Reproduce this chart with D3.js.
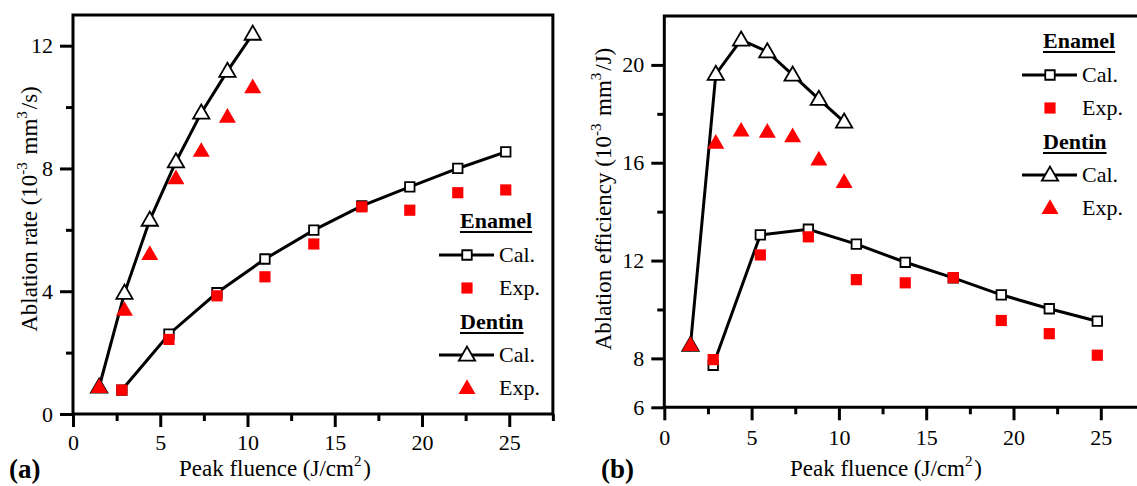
<!DOCTYPE html>
<html><head><meta charset="utf-8">
<script src="https://cdn.jsdelivr.net/npm/d3@7"></script>
<style>
html,body{margin:0;padding:0;background:#fff;overflow:hidden;}
svg text{font-family:"Liberation Serif","Times New Roman",serif;fill:#000;}
</style></head>
<body>
<svg id="chart" width="1137" height="486"></svg>
<script>
// ---- data ----
const enamelFluence = [2.8, 5.5, 8.25, 11.0, 13.8, 16.55, 19.3, 22.05, 24.8];
const dentinFluence = [1.5, 2.95, 4.4, 5.9, 7.35, 8.85, 10.3];

const rateEnamelCal = [0.78, 2.6, 3.95, 5.05, 5.99, 6.78, 7.4, 8.0, 8.54];
const rateEnamelExp = [0.78, 2.43, 3.85, 4.47, 5.54, 6.75, 6.64, 7.21, 7.3];
const rateDentinCal = [0.88, 3.94, 6.32, 8.22, 9.81, 11.17, 12.38];
const rateDentinExp = [0.88, 3.39, 5.21, 7.68, 8.57, 9.68, 10.64];

const effEnamelCal = [7.72, 13.05, 13.28, 12.67, 11.93, 11.29, 10.6, 10.03, 9.52];
const effEnamelExp = [7.95, 12.23, 12.97, 11.22, 11.09, 11.3, 9.55, 9.01, 8.13];
const effDentinCal = [8.54, 19.62, 21.02, 20.54, 19.59, 18.6, 17.67];
const effDentinExp = [8.54, 16.81, 17.31, 17.26, 17.08, 16.13, 15.21];

const xTicks = [0, 5, 10, 15, 20, 25];
const xMinor = [2.5, 7.5, 12.5, 17.5, 22.5, 27.5];
const rateTicks = [0, 4, 8, 12];
const rateMinor = [2, 6, 10];
const effTicks = [6, 8, 12, 16, 20];
const effMinor = [10, 14, 18];

const legendLabels = ["Enamel", "Cal.", "Exp.", "Dentin", "Cal.", "Exp."];

// ---- drawing ----
const svg = d3.select("#chart");
const W = 1137;
const RED = "#ff0000";

function sup(textSel, parts) {
  parts.forEach(p => {
    if (p.sup) {
      textSel.append("tspan").attr("dy", -10).attr("font-size", 15).text(p.t);
      textSel.append("tspan").attr("dy", 10).text("\u200a");
    } else {
      textSel.append("tspan").text(p.t);
    }
  });
}

function panel(cfg) {
  const g = svg.append("g");
  const x = d3.scaleLinear().domain([0, 27.5]).range([cfg.left, cfg.left + cfg.pxPerX * 27.5]);
  const y = d3.scaleLinear().domain(cfg.yDomain).range([cfg.bottom, cfg.top]);

  const xAxisMinor = d3.axisBottom(x).tickValues(xMinor).tickSize(7).tickFormat("");
  const xAxis = d3.axisBottom(x).tickValues(xTicks).tickSize(13).tickPadding(cfg.xPad);
  const yAxisMinor = d3.axisLeft(y).tickValues(cfg.yMinor).tickSize(7).tickFormat("");
  const yAxis = d3.axisLeft(y).tickValues(cfg.yTicks).tickSize(13).tickPadding(7);

  [xAxisMinor, xAxis].forEach(a => {
    const ag = g.append("g").attr("transform", `translate(0,${cfg.bottom})`).call(a);
    ag.select(".domain").remove();
    ag.selectAll("line").attr("stroke", "#000").attr("stroke-width", 3);
    ag.selectAll("text").attr("font-size", 22);
  });
  [yAxisMinor, yAxis].forEach(a => {
    const ag = g.append("g").attr("transform", `translate(${cfg.left},0)`).call(a);
    ag.select(".domain").remove();
    ag.selectAll("line").attr("stroke", "#000").attr("stroke-width", 3);
    ag.selectAll("text").attr("font-size", 22);
  });

  // frame (right side only drawn if it lies inside the picture)
  const xr = x(27.5);
  const frame = d3.path();
  frame.moveTo(Math.min(xr, W + 10), cfg.top);
  frame.lineTo(cfg.left, cfg.top);
  frame.lineTo(cfg.left, cfg.bottom);
  frame.lineTo(Math.min(xr, W + 10), cfg.bottom);
  if (xr < W) frame.lineTo(xr, cfg.top);
  g.append("path").attr("d", frame.toString())
    .attr("fill", "none").attr("stroke", "#000").attr("stroke-width", 3)
    .attr("stroke-linecap", "square");

  const line = d3.line().x(d => x(d[0])).y(d => y(d[1]));
  const sq = d3.symbol().type(d3.symbolSquare);
  const tri = d3.symbol().type(d3.symbolTriangle);

  function series(xs, ys, kind) {
    const pts = xs.map((v, i) => [v, ys[i]]);
    if (kind === "calSq" || kind === "calTri") {
      g.append("path").datum(pts).attr("d", line)
        .attr("fill", "none").attr("stroke", "#000").attr("stroke-width", 3);
    }
    g.selectAll(null).data(pts).enter().append("path")
      .attr("transform", d => `translate(${x(d[0])},${y(d[1]) + (kind.endsWith("Tri") ? 1 : 0)})`)
      .attr("d", kind.endsWith("Sq") ? sq.size(kind === "calSq" ? 90 : 125)() : tri.size(kind === "calTri" ? 115 : 125)())
      .attr("fill", kind.startsWith("cal") ? "#fff" : RED)
      .attr("stroke", kind.startsWith("cal") ? "#000" : "none")
      .attr("stroke-width", 1.8);
  }
  series(enamelFluence, cfg.enamelCal, "calSq");
  series(dentinFluence, cfg.dentinCal, "calTri");
  series(enamelFluence, cfg.enamelExp, "expSq");
  series(dentinFluence, cfg.dentinExp, "expTri");

  // axis titles
  const xt = g.append("text").attr("x", cfg.xLabelX).attr("y", cfg.xLabelY)
    .attr("text-anchor", "middle").attr("font-size", 23);
  sup(xt, [{t: "Peak fluence (J/cm"}, {t: "2", sup: true}, {t: ")"}]);

  const yt = g.append("text").attr("transform", `translate(${cfg.yLabelX},${cfg.yLabelC}) rotate(-90)`)
    .attr("text-anchor", "middle").attr("font-size", 23);
  sup(yt, cfg.yLabelParts);

  g.append("text").attr("x", cfg.tagX).attr("y", cfg.tagY).attr("font-size", 27)
    .attr("font-weight", "bold").text(cfg.tag);

  // legend
  const lx = cfg.legendX, ly = cfg.legendY;
  const offs = [0, 27, 60, 101, 127, 160];
  legendLabels.forEach((lab, i) => {
    const yy = ly + offs[i];
    if (i === 0 || i === 3) {
      const t = g.append("text").attr("x", lx).attr("y", yy).attr("font-size", 22)
        .attr("font-weight", "bold").text(lab);
      const w = t.node().getComputedTextLength();
      g.append("line").attr("x1", lx).attr("x2", lx + w).attr("y1", yy + 4).attr("y2", yy + 4)
        .attr("stroke", "#000").attr("stroke-width", 2);
    } else {
      const isCal = lab === "Cal.";
      const isSq = i < 3;
      if (isCal) {
        g.append("line").attr("x1", lx - 21).attr("x2", lx + 34).attr("y1", yy).attr("y2", yy)
          .attr("stroke", "#000").attr("stroke-width", 3);
      }
      g.append("path").attr("transform", `translate(${lx + 7},${yy + (isSq ? 0 : 1)})`)
        .attr("d", isSq ? sq.size(isCal ? 90 : 125)() : tri.size(isCal ? 115 : 125)())
        .attr("fill", isCal ? "#fff" : RED)
        .attr("stroke", isCal ? "#000" : "none").attr("stroke-width", 1.8);
      g.append("text").attr("x", lx + 39).attr("y", yy + 7).attr("font-size", 22).text(lab);
    }
  });
}

panel({
  left: 73, top: 15, bottom: 414, pxPerX: 17.45, xPad: 7,
  yDomain: [0, 13], yTicks: rateTicks, yMinor: rateMinor,
  enamelCal: rateEnamelCal, enamelExp: rateEnamelExp,
  dentinCal: rateDentinCal, dentinExp: rateDentinExp,
  xLabelX: 275, xLabelY: 476, yLabelX: 37, yLabelC: 209, tag: "(a)", tagX: 9, tagY: 478,
  yLabelParts: [{t: "Ablation rate (10"}, {t: "-3", sup: true}, {t: " mm"}, {t: "3", sup: true}, {t: "/s)"}],
  legendX: 460, legendY: 228
});

panel({
  left: 664.3, top: 16, bottom: 407.3, pxPerX: 17.46, xPad: 9,
  yDomain: [6, 22], yTicks: effTicks, yMinor: effMinor,
  enamelCal: effEnamelCal, enamelExp: effEnamelExp,
  dentinCal: effDentinCal, dentinExp: effDentinExp,
  xLabelX: 886, xLabelY: 476, yLabelX: 611, yLabelC: 199, tag: "(b)", tagX: 601, tagY: 478,
  yLabelParts: [{t: "Ablation efficiency (10"}, {t: "-3", sup: true}, {t: " mm"}, {t: "3", sup: true}, {t: "/J)"}],
  legendX: 1043, legendY: 48
});
</script>
</body></html>
